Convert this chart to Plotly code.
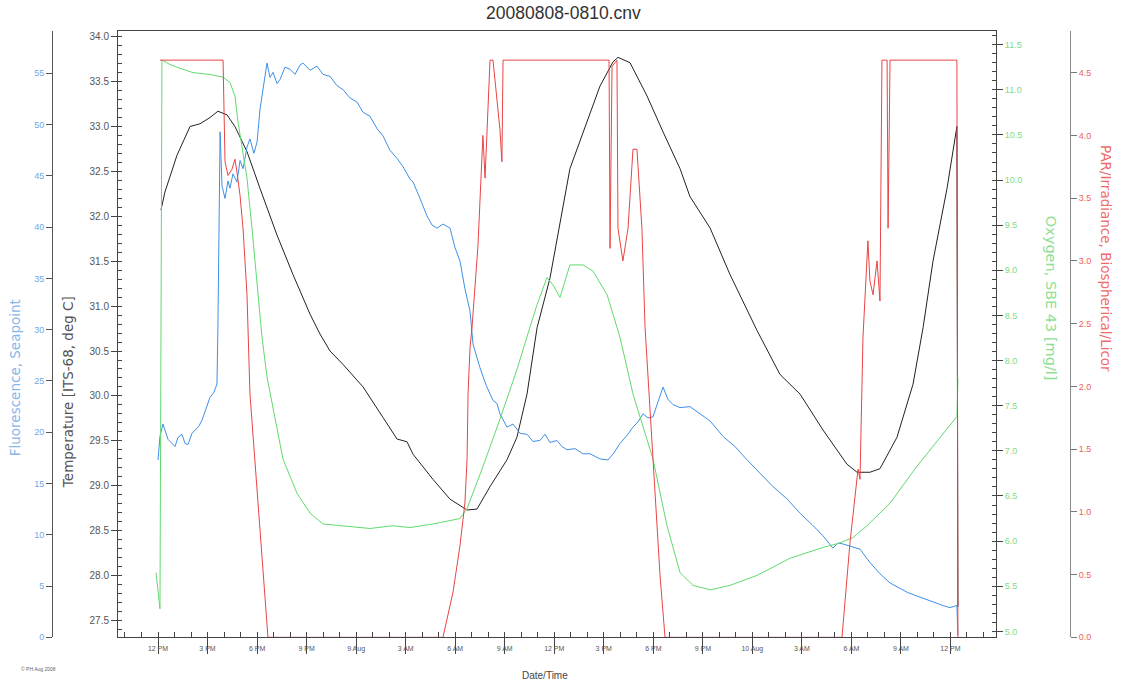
import pandas as pd
import plotly.graph_objects as go

BASE = pd.Timestamp("2008-08-08 12:00")

# hours since 2008-08-08 12:00 and values
temp_h = [0.18, 0.42, 1.15, 1.94, 2.54, 3.15, 3.63, 4.18, 4.66, 5.39, 6.18, 7.21, 8.18, 9.21, 9.81,
          10.42, 11.21, 12.42, 13.63, 14.48, 15.08, 15.45, 16.66, 17.69, 18.72, 19.32, 20.11, 21.14,
          21.74, 22.35, 22.96, 23.74, 24.95, 25.98, 26.77, 27.56, 27.86, 28.59, 29.62, 30.59, 31.62,
          32.22, 32.83, 33.44, 34.65, 36.28, 37.67, 38.89, 40.28, 41.73, 42.34, 43.12, 43.73, 44.76,
          45.73, 46.34, 46.94, 47.79, 48.39, 48.45]
temp_v = [32.07, 32.27, 32.68, 33.00, 33.03, 33.10, 33.17, 33.13, 33.00, 32.72, 32.31, 31.79, 31.35, 30.91, 30.69,
          30.50, 30.35, 30.10, 29.76, 29.52, 29.49, 29.35, 29.07, 28.85, 28.73, 28.74, 28.99, 29.29,
          29.54, 30.02, 30.76, 31.31, 32.53, 33.05, 33.45, 33.72, 33.77, 33.71, 33.34, 32.94, 32.53,
          32.22, 32.05, 31.87, 31.35, 30.73, 30.24, 30.02, 29.62, 29.24, 29.15, 29.15, 29.19, 29.54,
          30.13, 30.76, 31.50, 32.31, 33.00, 27.65]

fluor_h = [0.00, 0.12, 0.30, 0.61, 1.03, 1.21, 1.45, 1.64, 1.82, 2.06, 2.24, 2.48, 2.67, 2.91, 3.15, 3.39,
           3.57, 3.63, 3.69, 3.76, 3.88, 4.06, 4.24, 4.36, 4.54, 4.78, 4.97, 5.15, 5.39, 5.57, 5.81, 6.00,
           6.18, 6.30, 6.48, 6.60, 6.78, 6.97, 7.21, 7.39, 7.69, 8.00, 8.30, 8.60, 8.78, 9.21, 9.63, 9.99,
           10.42, 10.84, 11.21, 11.63, 12.05, 12.42, 12.84, 13.27, 13.63, 14.05, 14.48, 14.84, 15.26,
           15.45, 15.87, 16.29, 16.60, 16.90, 17.26, 17.69, 17.99, 18.29, 18.59, 18.90, 19.08, 19.50,
           19.87, 20.29, 20.53, 20.71, 21.14, 21.50, 21.93, 22.35, 22.71, 23.14, 23.44, 23.74, 24.16,
           24.47, 24.77, 25.26, 25.74, 26.17, 26.77, 27.26, 27.62, 27.98, 28.41, 28.77, 29.07, 29.38,
           29.68, 29.98, 30.29, 30.59, 30.89, 31.19, 31.62, 32.22, 32.83, 33.44, 34.22, 34.95, 35.68,
           36.46, 37.25, 38.10, 38.89, 39.61, 40.28, 40.88, 41.19, 41.49, 41.91, 42.52, 43.12, 43.73,
           44.34, 44.94, 45.37, 45.85, 46.34, 46.94, 47.55, 47.97, 48.39, 48.45]
fluor_v = [17.3, 19.6, 20.8, 19.3, 18.6, 19.5, 19.8, 18.9, 18.8, 19.9, 20.2, 20.6, 21.2, 22.2, 23.4, 23.9,
           24.7, 30.2, 42.0, 49.3, 44.0, 42.8, 44.5, 43.8, 45.2, 44.4, 46.5, 45.7, 47.8, 48.6, 47.2, 48.3,
           51.5, 52.8, 55.0, 56.0, 54.6, 55.1, 54.0, 54.4, 55.6, 55.4, 54.9, 55.8, 56.0, 55.3, 55.7, 54.9,
           54.7, 53.8, 53.4, 52.6, 52.2, 51.2, 50.8, 49.6, 48.9, 47.5, 46.7, 45.9, 44.7,
           44.4, 42.8, 41.1, 40.2, 39.9, 40.3, 39.9, 38.0, 36.7, 34.0, 31.8, 28.6, 26.3,
           24.6, 23.1, 22.8, 21.8, 20.5, 20.8, 19.9, 19.8, 19.1, 19.2, 19.8, 19.0, 19.2,
           18.6, 18.3, 18.4, 17.9, 17.9, 17.4, 17.3, 18.0, 18.9, 19.7, 20.5, 21.0, 21.8,
           21.4, 21.5, 23.0, 24.4, 23.2, 22.7, 22.4, 22.5, 21.8, 21.1, 19.6, 18.6, 17.3,
           16.0, 14.7, 13.5, 12.1, 11.0, 9.9, 8.7, 9.2, 9.1, 8.9, 8.6, 7.3, 6.2,
           5.3, 4.8, 4.4, 4.1, 3.8, 3.4, 3.1, 2.9, 3.1, 0.2]

oxy_h = [-0.12, 0.12, 0.24, 0.73, 1.15, 2.12, 3.15, 3.94, 4.36, 4.66, 4.85, 5.09, 5.39, 5.69, 6.00, 6.30,
         6.60, 6.97, 7.57, 8.42, 9.21, 9.99, 11.21, 12.84, 14.23, 15.26, 16.66, 18.29, 18.72, 19.69,
         20.71, 21.74, 22.53, 22.96, 23.56, 23.92, 24.35, 24.95, 25.74, 26.35, 27.20, 27.98, 28.77,
         29.98, 30.83, 31.62, 32.41, 33.44, 34.65, 36.28, 38.28, 40.28, 41.31, 42.10, 42.94, 44.34,
         45.97, 47.55, 48.39, 48.45]
oxy_v = [5.65, 5.25, 11.33, 11.28, 11.25, 11.19, 11.17, 11.14, 11.08, 10.93, 10.64, 10.38, 10.02, 9.47, 8.81, 8.26,
         7.82, 7.46, 6.91, 6.53, 6.31, 6.19, 6.17, 6.14, 6.17, 6.15, 6.19, 6.25, 6.36, 6.83,
         7.35, 7.90, 8.37, 8.62, 8.92, 8.84, 8.70, 9.06, 9.06, 8.99, 8.73, 8.26, 7.63,
         6.91, 6.17, 5.65, 5.51, 5.46, 5.51, 5.62, 5.81, 5.93, 5.98, 6.04, 6.17, 6.42,
         6.83, 7.19, 7.38, 7.80]

par_h = [0.12, 3.76, 3.94, 4.06, 4.24, 4.48, 4.66, 4.78, 4.97, 5.15, 5.39, 5.57, 6.00, 6.36, 6.66,
         17.26, 17.87, 18.29, 18.59, 18.72, 18.78, 18.90, 19.02, 19.38, 19.62, 19.68, 19.81, 19.99,
         20.11, 20.29, 20.53, 20.71, 20.83, 20.90, 27.32, 27.38, 27.50, 27.80, 27.86, 28.16, 28.47,
         28.77, 29.01, 29.31, 29.50, 29.98, 30.41, 30.71, 41.43, 41.91, 42.22, 42.40, 42.52, 42.64,
         42.70, 43.00, 43.12, 43.31, 43.55, 43.73, 43.79, 43.85, 44.16, 44.22, 44.34, 48.39, 48.45]
par_v = [4.60, 4.60, 4.60, 3.79, 3.68, 3.73, 3.81, 3.71, 3.52, 3.26, 2.73, 1.94, 1.15, 0.49, 0.00,
         0.00, 0.36, 0.73, 1.07, 1.42, 1.94, 2.31, 2.47, 3.12, 3.79, 4.00, 3.66, 4.31,
         4.60, 4.60, 4.31, 4.05, 3.79, 4.60, 4.60, 3.10, 4.55, 4.60, 3.26, 3.00, 3.26,
         3.89, 3.89, 3.26, 2.47, 1.42, 0.49, 0.00, 0.00, 0.75, 1.15, 1.34, 1.26, 2.21,
         2.39, 3.16, 2.84, 2.73, 3.00, 2.68, 4.21, 4.60, 4.60, 3.26, 4.60, 4.60, 0.00]

tick_hours = list(range(0, 49, 3))
tick_text = ["12 PM", "3 PM", "6 PM", "9 PM", "9 Aug", "3 AM", "6 AM", "9 AM", "12 PM",
             "3 PM", "6 PM", "9 PM", "10 Aug", "3 AM", "6 AM", "9 AM", "12 PM"]


def to_time(hours):
    return BASE + pd.to_timedelta(hours, unit="h")


W, H = 1122, 688
PL, PR, PT, PB = 118, 996, 31, 642
FONT = "Liberation Sans, Arial, sans-serif"
TFONT = "DejaVu Sans, sans-serif"
C_BLUE, C_BLACK, C_GREEN, C_RED = "#3f8fe6", "#222222", "#62d96e", "#e84444"

fig = go.Figure()
fig.add_trace(go.Scatter(x=to_time(oxy_h), y=oxy_v, yaxis="y3", mode="lines",
                         line=dict(color=C_GREEN, width=1), name="Oxygen"))
fig.add_trace(go.Scatter(x=to_time(fluor_h), y=fluor_v, yaxis="y2", mode="lines",
                         line=dict(color=C_BLUE, width=1), name="Fluorescence"))
fig.add_trace(go.Scatter(x=to_time(temp_h), y=temp_v, yaxis="y", mode="lines",
                         line=dict(color=C_BLACK, width=1), name="Temperature"))
fig.add_trace(go.Scatter(x=to_time(par_h), y=par_v, yaxis="y4", mode="lines",
                         line=dict(color=C_RED, width=1), name="PAR"))

x0 = BASE + pd.to_timedelta((PL - 158) / 16.51, unit="h")
x1 = BASE + pd.to_timedelta((PR - 158) / 16.51, unit="h")

fig.update_layout(
    width=W, height=H, showlegend=False,
    margin=dict(l=0, r=0, t=0, b=0),
    paper_bgcolor="white", plot_bgcolor="white",
    xaxis=dict(domain=[PL / W, PR / W], range=[x0, x1], type="date",
               tickvals=list(to_time(tick_hours)), ticktext=tick_text,
               ticks="outside", ticklen=16, tickcolor="#444", tickwidth=1,
               ticklabelstandoff=-12,
               minor=dict(dtick=3600000, ticks="inside", ticklen=5, tickcolor="#444"),
               tickfont=dict(family=FONT, size=7, color="#555555"),
               showline=True, linecolor="#444", mirror=True, showgrid=False, zeroline=False),
    yaxis=dict(domain=[1 - PB / H, 1 - PT / H], range=[27.312, 34.066],
               tick0=27.5, dtick=0.5, tickformat=".1f",
               ticks="outside", ticklen=6, tickcolor="#444",
               minor=dict(dtick=0.1, ticks="inside", ticklen=4, tickcolor="#444"),
               tickfont=dict(family=FONT, size=10, color="#555555"),
               showline=True, linecolor="#444", showgrid=False, zeroline=False),
    yaxis2=dict(overlaying="y", anchor="free", position=52 / W, side="left",
                range=[0, 59.15], tick0=0, dtick=5,
                ticks="outside", ticklen=6, tickcolor="#555",
                tickfont=dict(family=FONT, size=9, color="#6fa8e8"),
                showline=True, linecolor="#555", showgrid=False, zeroline=False),
    yaxis3=dict(overlaying="y", anchor="x", side="right",
                range=[4.934, 11.654], tick0=5, dtick=0.5, tickformat=".1f",
                ticks="outside", ticklen=6, tickcolor="#444",
                minor=dict(dtick=0.1, ticks="inside", ticklen=4, tickcolor="#444"),
                tickfont=dict(family=FONT, size=9, color="#7fdc84"),
                showline=True, linecolor="#444", showgrid=False, zeroline=False),
    yaxis4=dict(overlaying="y", anchor="free", position=1070 / W, side="right",
                range=[0, 4.834], tick0=0, dtick=0.5, tickformat=".1f",
                ticks="outside", ticklen=6, tickcolor="#777",
                tickfont=dict(family=FONT, size=9, color="#ee6060"),
                showline=True, linecolor="#888", showgrid=False, zeroline=False),
)

ann = [
    dict(text="20080808-0810.cnv", x=563 / W, y=1 - 13 / H, font=dict(size=17.5, color="#333333")),
    dict(text="Date/Time", x=545 / W, y=1 - 680 / H, font=dict(size=10, color="#444444")),
    dict(text="© PH Aug 2008", x=38 / W, y=1 - 674 / H, font=dict(size=5, color="#666666")),
    dict(text="Fluorescence, Seapoint", x=15 / W, y=1 - 381 / H, textangle=-90,
         font=dict(family=TFONT, size=13.5, color="#86b6ec")),
    dict(text="Temperature [ITS-68, deg C]", x=68 / W, y=1 - 395 / H, textangle=-90,
         font=dict(family=TFONT, size=13.5, color="#555555")),
    dict(text="Oxygen, SBE 43 [mg/l]", x=1051 / W, y=1 - 300 / H, textangle=90,
         font=dict(family=TFONT, size=14.5, color="#8fe096")),
    dict(text="PAR/Irradiance, Biospherical/Licor", x=1106 / W, y=1 - 260 / H, textangle=90,
         font=dict(family=TFONT, size=13.5, color="#ef6b6b")),
]
for a in ann:
    a.update(xref="paper", yref="paper", showarrow=False, xanchor="center", yanchor="middle")
    a["font"].setdefault("family", FONT)
fig.update_layout(annotations=ann)

fig.write_html("out.html", config={"displayModeBar": False},
               post_script="document.body.style.margin='0';document.body.style.overflow='hidden';")
